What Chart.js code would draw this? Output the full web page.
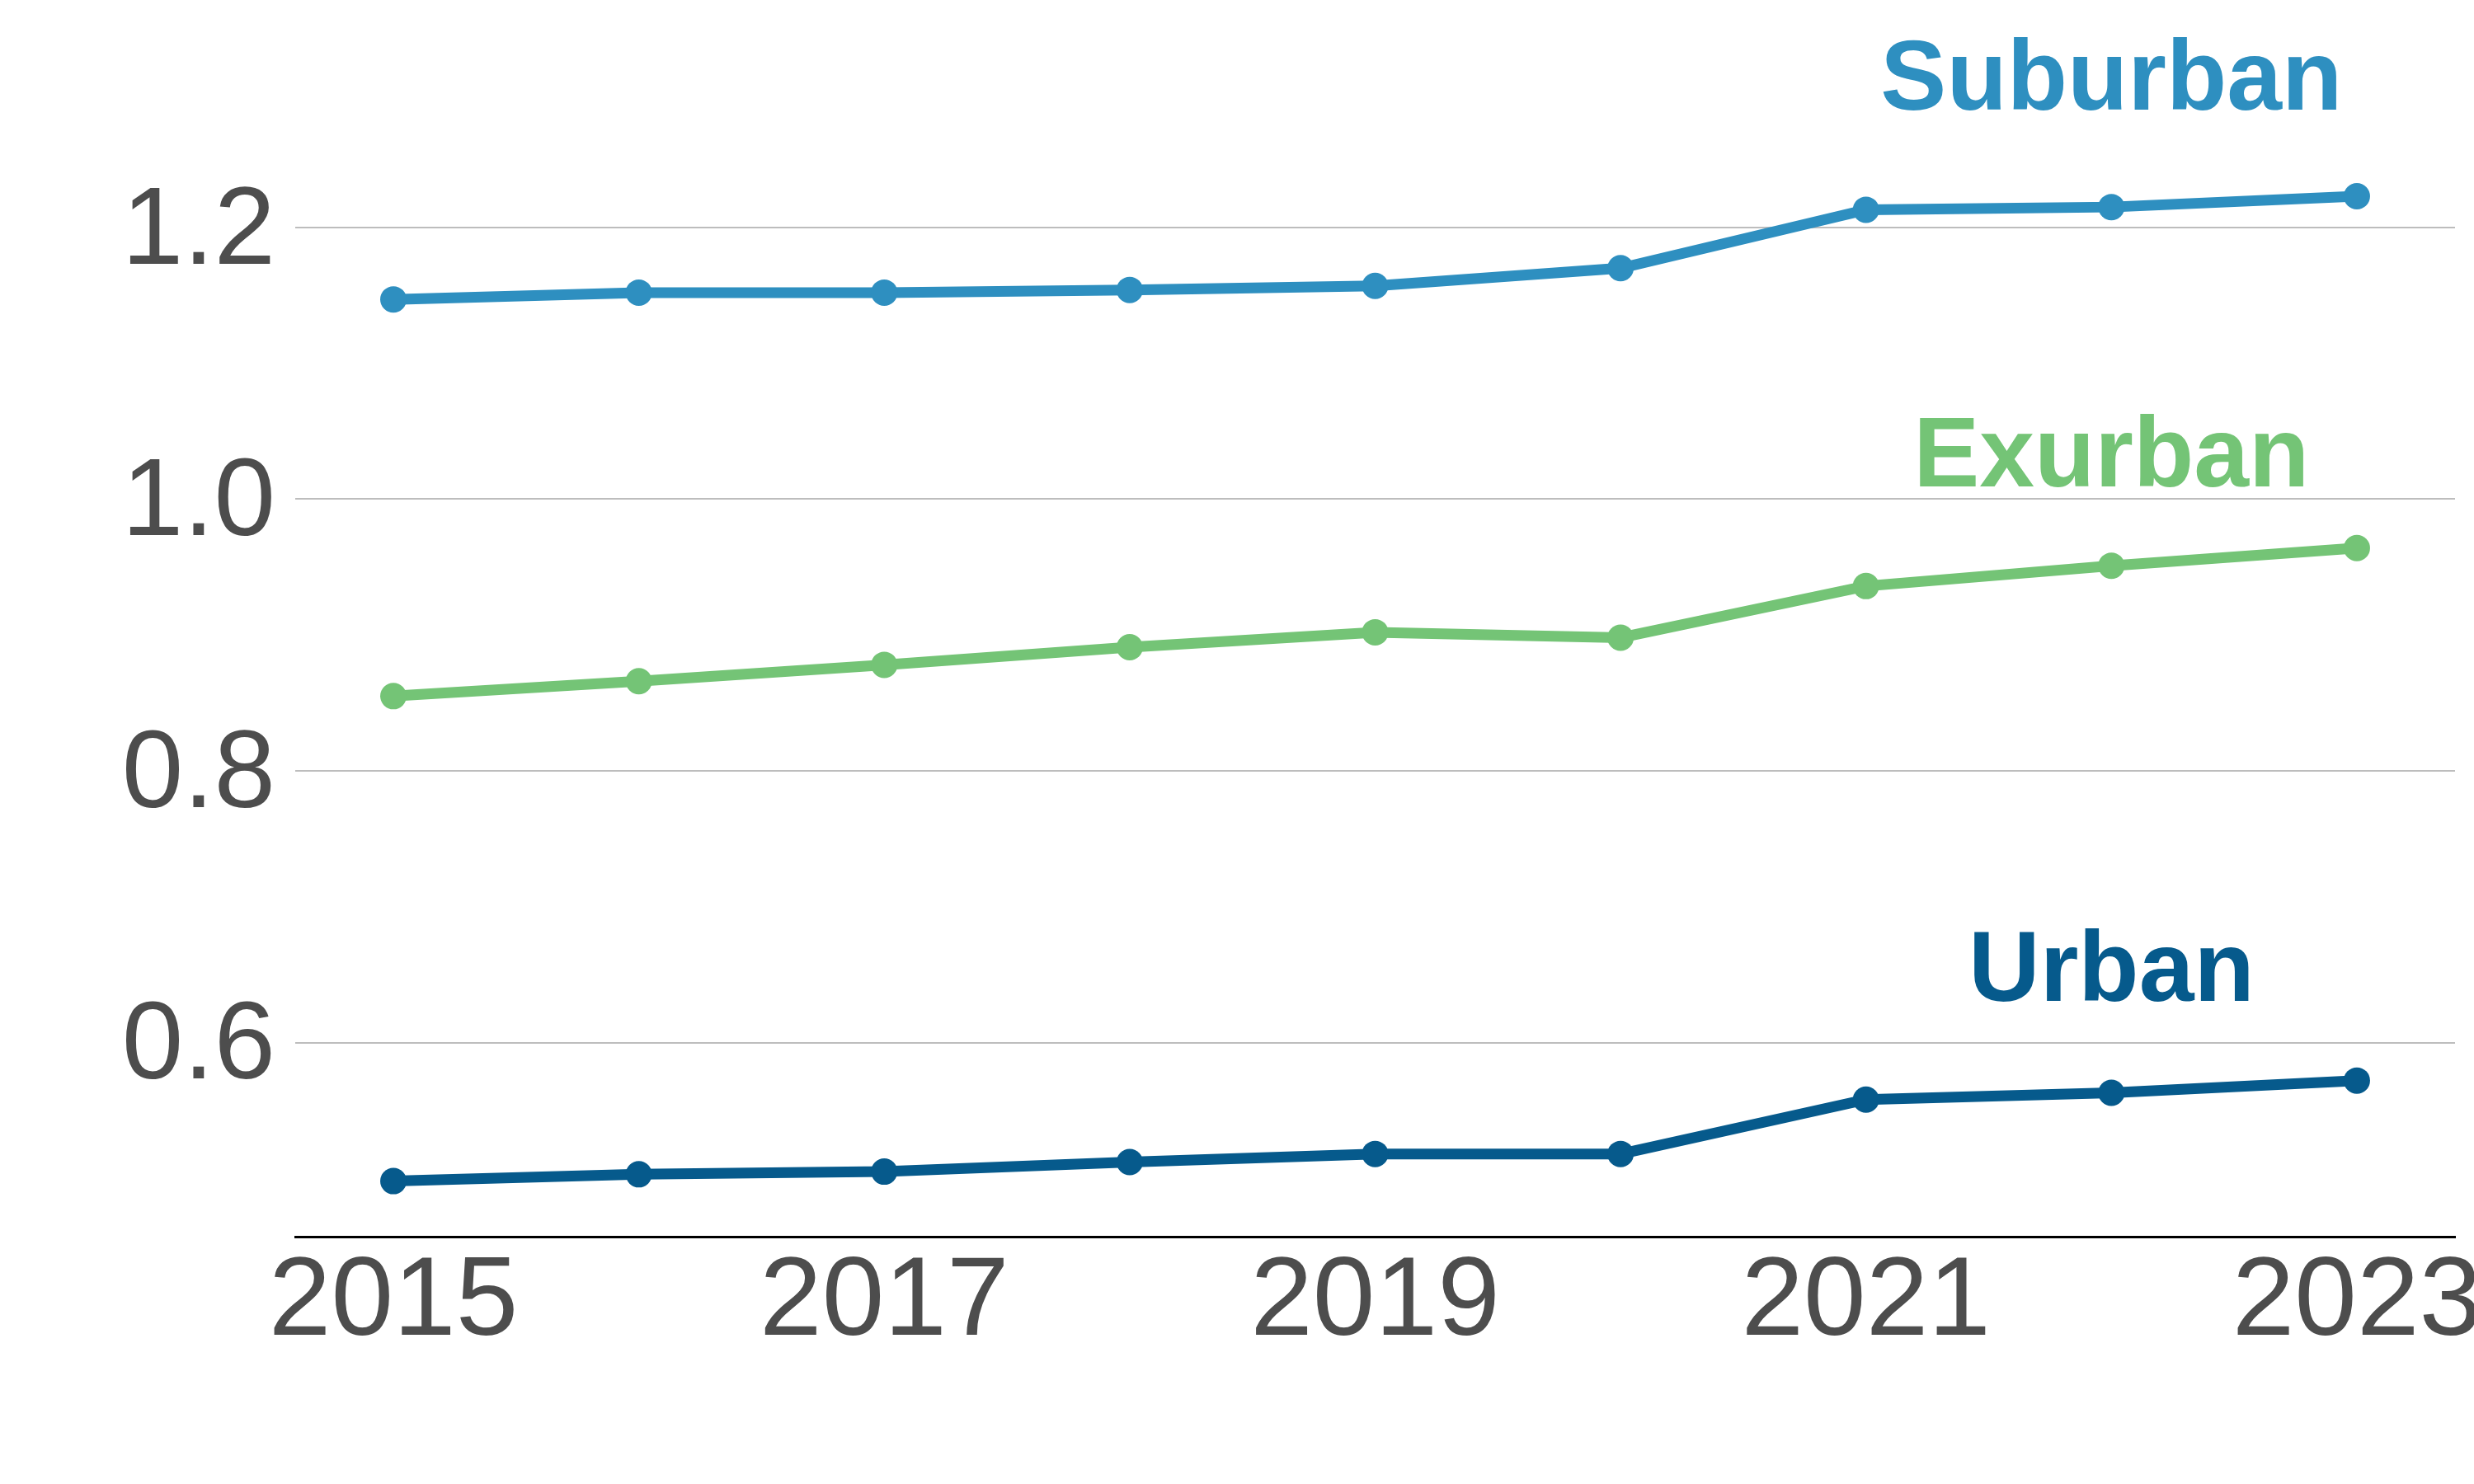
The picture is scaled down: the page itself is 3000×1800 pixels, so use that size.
<!DOCTYPE html>
<html>
<head>
<meta charset="utf-8">
<script src="https://cdn.jsdelivr.net/npm/chart.js@4"></script>
<style>
    html, body { margin: 0; padding: 0; background: #fff; }
    #wrap { width: 3000px; height: 1800px; }
</style>
</head>
<body>
<div id="wrap"><canvas id="lineChart"></canvas></div>
<script>
const years = [2015, 2016, 2017, 2018, 2019, 2020, 2021, 2022, 2023];
const suburban = [1.147, 1.152, 1.152, 1.154, 1.157, 1.170, 1.213, 1.215, 1.223];
const exurban = [0.855, 0.866, 0.878, 0.891, 0.902, 0.898, 0.936, 0.951, 0.964];
const urban = [0.498, 0.503, 0.505, 0.512, 0.518, 0.518, 0.558, 0.563, 0.572];

const xTicks = [2015, 2017, 2019, 2021, 2023];
const yTicks = [0.6, 0.8, 1.0, 1.2];

const seriesNames = ["Suburban", "Exurban", "Urban"];
const seriesColors = ["#2e8fc0", "#74c476", "#065a8c"];
// where each name sits (x year, y baseline value)
const nameX = [2022, 2022, 2022];
const nameY = [1.2867, 1.0093, 0.6304];

const fontFamily = "'Liberation Sans', Arial, sans-serif";

function toPoints(values) {
    return years.map((yr, i) => ({ x: yr, y: values[i] }));
}

const seriesLabels = {
    id: "seriesLabels",
    afterDatasetsDraw(chart) {
        const ctx = chart.ctx;
        const xs = chart.scales.x;
        const ys = chart.scales.y;
        ctx.save();
        ctx.font = "bold 120px " + fontFamily;
        ctx.textAlign = "center";
        ctx.textBaseline = "alphabetic";
        seriesNames.forEach((name, i) => {
            ctx.fillStyle = seriesColors[i];
            ctx.fillText(name, xs.getPixelForValue(nameX[i]), ys.getPixelForValue(nameY[i]));
        });
        ctx.restore();
    }
};

const allSeries = [suburban, exurban, urban];

new Chart(document.getElementById("lineChart"), {
    type: "line",
    data: {
        datasets: allSeries.map((vals, i) => ({
            label: seriesNames[i],
            data: toPoints(vals),
            borderColor: seriesColors[i],
            backgroundColor: seriesColors[i],
            pointBackgroundColor: seriesColors[i],
            borderWidth: 13,
            pointRadius: 16,
            pointBorderWidth: 0,
            tension: 0,
            fill: false,
            clip: false
        }))
    },
    options: {
        responsive: true,
        maintainAspectRatio: false,
        animation: false,
        devicePixelRatio: 1,
        layout: { autoPadding: false, padding: { left: 0, right: 23, top: 0, bottom: 0 } },
        plugins: {
            legend: { display: false },
            tooltip: { enabled: false }
        },
        scales: {
            x: {
                type: "linear",
                min: 2014.6,
                max: 2023.4,
                afterBuildTicks: (scale) => { scale.ticks = xTicks.map(v => ({ value: v })); },
                afterFit: (scale) => {
                    scale.height = 300;
                    scale.paddingLeft = 0;
                    scale.paddingRight = 0;
                },
                grid: { display: false, drawTicks: false },
                border: { display: true, color: "#000", width: 3 },
                ticks: {
                    color: "#4d4d4d",
                    font: { family: fontFamily, size: 136 },
                    padding: 0,
                    maxRotation: 0,
                    autoSkip: false,
                    callback: (v) => String(v)
                }
            },
            y: {
                min: 0.4571,
                max: 1.3674,
                afterBuildTicks: (scale) => { scale.ticks = yTicks.map(v => ({ value: v })); },
                afterFit: (scale) => {
                    scale.width = 358;
                    scale.paddingTop = 0;
                    scale.paddingBottom = 0;
                },
                grid: { color: "#bdbdbd", lineWidth: 2, drawTicks: false },
                border: { display: false },
                ticks: {
                    color: "#4d4d4d",
                    // small line height + empty first line nudges the label a few px down
                    font: { family: fontFamily, size: 134, lineHeight: "14px" },
                    padding: 24,
                    callback: (v) => ["", v.toFixed(1)]
                }
            }
        }
    },
    plugins: [seriesLabels]
});
</script>
</body>
</html>
